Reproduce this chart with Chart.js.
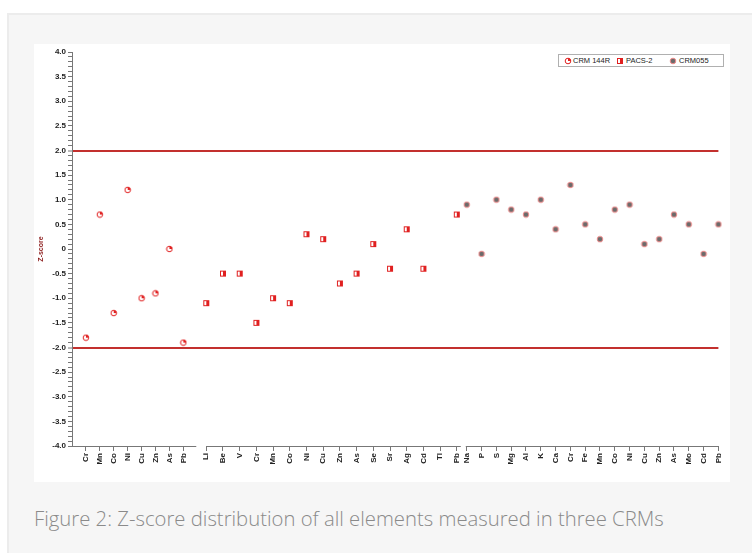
<!DOCTYPE html>
<html><head><meta charset="utf-8">
<script src="https://cdn.jsdelivr.net/npm/chart.js@4"></script>
<style>
html,body{margin:0;padding:0;background:#fff;width:752px;height:553px;overflow:hidden;}
#panel{position:absolute;left:7px;top:13px;width:745px;height:540px;background:#f6f6f6;border-top:2px solid #ececec;border-left:2px solid #ececec;box-sizing:border-box;}
#plot{position:absolute;left:34px;top:44px;width:696px;height:438px;background:#fff;}
#c{position:absolute;left:0;top:0;}
#legend{position:absolute;left:558px;top:54px;width:166px;height:13px;border:1px solid #b0b0b0;background:#fff;box-sizing:border-box;font:7.5px Arial,"Liberation Sans",sans-serif;color:#222;}
.li{position:absolute;top:0;height:11px;line-height:11px;white-space:nowrap;}
#caption{position:absolute;left:34px;top:504px;font:300 20.3px "Open Sans",sans-serif;color:#8a8a8a;white-space:nowrap;}
</style></head>
<body>
<div id="panel"></div>
<div id="plot"><canvas id="c" width="696" height="438"></canvas></div>
<div id="legend"></div>
<div id="caption">Figure 2: Z-score distribution of all elements measured in three CRMs</div>
<script>
const crm144rLabels = ['Cr','Mn','Co','Ni','Cu','Zn','As','Pb'];
const crm144rZ = [-1.8, 0.7, -1.3, 1.2, -1.0, -0.9, 0.0, -1.9];
const pacs2Labels = ['Li','Be','V','Cr','Mn','Co','Ni','Cu','Zn','As','Se','Sr','Ag','Cd','Tl','Pb'];
const pacs2Z = [-1.1, -0.5, -0.5, -1.5, -1.0, -1.1, 0.3, 0.2, -0.7, -0.5, 0.1, -0.4, 0.4, -0.4, null, 0.7];
const crm055Labels = ['Na','P','S','Mg','Al','K','Ca','Cr','Fe','Mn','Co','Ni','Cu','Zn','As','Mo','Cd','Pb'];
const crm055Z = [0.9, -0.1, 1.0, 0.8, 0.7, 1.0, 0.4, 1.3, 0.5, 0.2, 0.8, 0.9, 0.1, 0.2, 0.7, 0.5, -0.1, 0.5];
const seriesNames = ['CRM 144R', 'PACS-2', 'CRM055'];
const limitLines = [2, -2];

function makeIcon(kind){
  const c = document.createElement('canvas'); c.width = 8; c.height = 8;
  const g = c.getContext('2d');
  if (kind === 'pie') {
    g.beginPath(); g.arc(4,4,2.8,0,Math.PI*2); g.fillStyle='#fff'; g.fill();
    g.strokeStyle='#e02020'; g.lineWidth=1; g.stroke();
    g.beginPath(); g.moveTo(4,4); g.arc(4,4,2.8,-Math.PI/2,0); g.closePath(); g.fillStyle='#e02020'; g.fill();
  } else if (kind === 'sq') {
    g.fillStyle='#fff'; g.fillRect(1,1,6,6);
    g.fillStyle='#e02020'; g.fillRect(4,1.5,2.5,5);
    g.strokeStyle='#e02020'; g.lineWidth=1; g.strokeRect(1.5,1.5,5,5);
  } else {
    g.beginPath(); g.arc(4,4,2.8,0,Math.PI*2); g.fillStyle='#6b6b6b'; g.fill();
    g.strokeStyle='#f08a8a'; g.lineWidth=1; g.stroke();
  }
  return c;
}
const iconKinds = ['pie','sq','dot'];

function toPoints(arr){ return arr.map((v,i)=>({x:i, y:v})).filter(p=>p.y!==null); }

function segAxis(labels, min, max, weight){
  return {
    type:'linear', position:'bottom', stack:'x', stackWeight:weight, min:min, max:max, bounds:'data',
    afterBuildTicks: s => { s.ticks = labels.map((_,i)=>({value:i})); },
    afterFit: s => { s.height = 36; },
    ticks:{autoSkip:false, maxRotation:90, minRotation:90, padding:2, color:'#222',
      font:{family:'Arial', size:8, weight:'bold'}, callback:(v)=> labels[v] !== undefined ? labels[v] : ''},
    grid:{drawOnChartArea:false, drawTicks:true, tickLength:5, tickColor:'#777', color:'#777', tickWidth:1},
    border:{display:false}
  };
}

const isLimit = v => limitLines.some(l => Math.abs(v - l) < 1e-9);
const fmtY = v => { const r = Math.round(v*10); if (r % 5 !== 0) return ''; return r === 0 ? '0' : (r/10).toFixed(1); };

const segmentLines = {
  id:'segmentLines',
  afterDraw(chart, args, opts){
    const ctx = chart.ctx; ctx.save(); ctx.strokeStyle='#777'; ctx.lineWidth=1;
    opts.spans.forEach(([id,a,b])=>{
      const s = chart.scales[id]; const y = Math.round(s.top)+0.5;
      ctx.beginPath(); ctx.moveTo(s.getPixelForValue(a), y); ctx.lineTo(s.getPixelForValue(b), y); ctx.stroke();
    });
    ctx.restore();
  }
};

const icons = iconKinds.map(makeIcon);
const series = [crm144rZ, pacs2Z, crm055Z];
const axisIds = ['x1','x2','x3'];

new Chart(document.getElementById('c'), {
  type:'scatter',
  data:{
    datasets: series.map((arr,k)=>({
      label: seriesNames[k], xAxisID: axisIds[k], yAxisID:'y',
      data: toPoints(arr), pointStyle: icons[k], pointRadius:4, pointHoverRadius:4, clip:false
    }))
  },
  options:{
    responsive:false, animation:false, devicePixelRatio:1,
    layout:{padding:{top:8, right:8, left:0, bottom:0}},
    plugins:{legend:{display:false}, tooltip:{enabled:false},
      segmentLines:{spans:[['x1',-1,7.93],['x2',0,15.24],['x3',-0.07,17]]}},
    scales:{
      x1: segAxis(crm144rLabels, -1, 8.29, 130),
      x2: segAxis(pacs2Labels, -0.3, 15.39, 263.5),
      x3: segAxis(crm055Labels, -0.235, 17, 256.5),
      y: {
        type:'linear', position:'left', min:-4, max:4, bounds:'data',
        afterFit: s => { s.width = 38; },
        ticks:{stepSize:0.1, autoSkip:false, padding:2, color:'#222',
          font:{family:'Arial', size:8, weight:'bold'}, callback: v => fmtY(v)},
        grid:{
          color: ctx => isLimit(ctx.tick.value) ? '#c3302e' : 'rgba(0,0,0,0)',
          lineWidth: ctx => isLimit(ctx.tick.value) ? 2 : 1,
          tickColor:'#777', tickWidth:1, tickLength:4, drawTicks:true
        },
        border:{display:true, color:'#777', width:1},
        title:{display:true, text:'Z-score', color:'#8b1a1a', font:{family:'Arial', size:7, weight:'bold'}, padding:{top:3, bottom:0}}
      }
    }
  },
  plugins:[segmentLines]
});

// legend (HTML)
const legend = document.getElementById('legend');
const legendPos = [[5,14],[57,67],[110,120]];
seriesNames.forEach((name,k)=>{
  const ic = makeIcon(iconKinds[k]); ic.style.left = legendPos[k][0]+'px'; ic.style.position='absolute'; ic.style.top='1.5px';
  legend.appendChild(ic);
  const t = document.createElement('div'); t.className='li'; t.style.left = legendPos[k][1]+'px'; t.textContent = name;
  legend.appendChild(t);
});
</script>
</body></html>
